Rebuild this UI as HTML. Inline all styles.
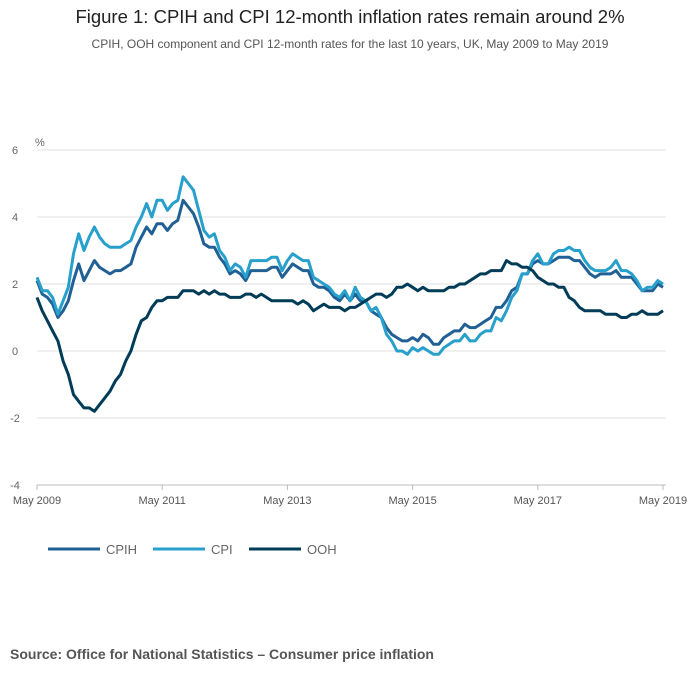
<!DOCTYPE html>
<html><head><meta charset="utf-8"><style>
body{margin:0;background:#fff;font-family:"Liberation Sans",sans-serif;}
#wrap{position:relative;width:700px;height:682px;overflow:hidden}
.t{position:absolute;left:0;width:700px;text-align:center}
</style></head><body>
<div id="wrap">
<div class="t" style="top:6px;font-size:18.5px;color:#222">Figure 1: CPIH and CPI 12-month inflation rates remain around 2%</div>
<div class="t" style="top:37px;font-size:12px;color:#555">CPIH, OOH component and CPI 12-month rates for the last 10 years, UK, May 2009 to May 2019</div>
<svg id="chart" width="700" height="600" style="position:absolute;left:0;top:0"></svg>
<div style="position:absolute;left:10px;top:646px;font-size:14px;font-weight:bold;color:#555">Source: Office for National Statistics – Consumer price inflation</div>
</div>
<script>
const yTicks=[6,4,2,0,-2,-4];
const xTickLabels=["May 2009","May 2011","May 2013","May 2015","May 2017","May 2019"];
const seriesNames=["CPIH","CPI","OOH"];
const cpih=[2.1,1.7,1.6,1.4,1.0,1.2,1.5,2.1,
2.6,2.1,2.4,2.7,2.5,2.4,2.3,2.4,2.4,2.5,2.6,3.1,
3.4,3.7,3.5,3.8,3.8,3.6,3.8,3.9,4.5,4.3,4.1,3.7,
3.2,3.1,3.1,2.8,2.6,2.3,2.4,2.3,2.1,2.4,2.4,2.4,
2.4,2.5,2.5,2.2,2.4,2.6,2.5,2.4,2.4,2.0,1.9,1.9,
1.8,1.6,1.5,1.7,1.5,1.7,1.5,1.5,1.2,1.1,1.0,0.7,
0.5,0.4,0.3,0.3,0.4,0.3,0.5,0.4,0.2,0.2,0.4,0.5,
0.6,0.6,0.8,0.7,0.7,0.8,0.9,1.0,1.3,1.3,1.5,1.8,
1.9,2.3,2.3,2.6,2.7,2.6,2.6,2.7,2.8,2.8,2.8,2.7,
2.7,2.5,2.3,2.2,2.3,2.3,2.3,2.4,2.2,2.2,2.2,2.0,
1.8,1.8,1.8,2.0,1.9];
const cpi=[2.2,1.8,1.8,1.6,1.1,1.5,1.9,2.9,
3.5,3.0,3.4,3.7,3.4,3.2,3.1,3.1,3.1,3.2,3.3,3.7,
4.0,4.4,4.0,4.5,4.5,4.2,4.4,4.5,5.2,5.0,4.8,4.2,
3.6,3.4,3.5,3.0,2.8,2.4,2.6,2.5,2.2,2.7,2.7,2.7,
2.7,2.8,2.8,2.4,2.7,2.9,2.8,2.7,2.7,2.2,2.1,2.0,
1.9,1.7,1.6,1.8,1.5,1.9,1.6,1.5,1.2,1.3,1.0,0.5,
0.3,0.0,0.0,-0.1,0.1,0.0,0.1,0.0,-0.1,-0.1,0.1,0.2,
0.3,0.3,0.5,0.3,0.3,0.5,0.6,0.6,1.0,0.9,1.2,1.6,
1.8,2.3,2.3,2.7,2.9,2.6,2.6,2.9,3.0,3.0,3.1,3.0,
3.0,2.7,2.5,2.4,2.4,2.4,2.5,2.7,2.4,2.4,2.3,2.1,
1.8,1.9,1.9,2.1,2.0];
const ooh=[1.6,1.2,0.9,0.6,0.3,-0.3,-0.7,-1.3,
-1.5,-1.7,-1.7,-1.8,-1.6,-1.4,-1.2,-0.9,-0.7,-0.3,0.0,0.5,
0.9,1.0,1.3,1.5,1.5,1.6,1.6,1.6,1.8,1.8,1.8,1.7,
1.8,1.7,1.8,1.7,1.7,1.6,1.6,1.6,1.7,1.7,1.6,1.7,
1.6,1.5,1.5,1.5,1.5,1.5,1.4,1.5,1.4,1.2,1.3,1.4,
1.3,1.3,1.3,1.2,1.3,1.3,1.4,1.5,1.6,1.7,1.7,1.6,
1.7,1.9,1.9,2.0,1.9,1.8,1.9,1.8,1.8,1.8,1.8,1.9,
1.9,2.0,2.0,2.1,2.2,2.3,2.3,2.4,2.4,2.4,2.7,2.6,
2.6,2.5,2.5,2.4,2.2,2.1,2.0,2.0,1.9,1.9,1.6,1.5,
1.3,1.2,1.2,1.2,1.2,1.1,1.1,1.1,1.0,1.0,1.1,1.1,
1.2,1.1,1.1,1.1,1.2];
const NS="http://www.w3.org/2000/svg";
const svg=document.getElementById('chart');
const x0=37,x1=663,yTop=150,yBot=485;
function xs(i){return x0+(x1-x0)*i/120;}
function ys(v){return yTop+(6-v)*(yBot-yTop)/10;}
function mk(t,a){const e=document.createElementNS(NS,t);for(const k in a)e.setAttribute(k,a[k]);svg.appendChild(e);return e;}
yTicks.forEach(v=>{
 const g=mk('line',{x1:x0,x2:666,y1:ys(v),y2:ys(v),stroke:v===-4?'#bbb':'#e2e2e2','stroke-width':1});
 
 
 const t=mk('text',{x:15,y:ys(v)+4,'font-size':11,fill:'#666','text-anchor':'middle','font-family':'Liberation Sans'});
 t.textContent=v;
 
 
});
const pct=mk('text',{x:35,y:146,'font-size':11,fill:'#666','font-family':'Liberation Sans'});
pct.textContent='%';


xTickLabels.forEach((l,k)=>{
 const x=xs(k*24);
 const tk=mk('line',{x1:x,x2:x,y1:yBot,y2:yBot+5,stroke:'#bbb'});
 
 
 const t=mk('text',{x:x,y:504,'font-size':11,fill:'#555','text-anchor':'middle','font-family':'Liberation Sans'});
 t.textContent=l;
 
 
});
const colors=['#206095','#27a0cc','#003c57'];
[cpih,cpi,ooh].forEach((s,k)=>{
 const d=s.map((v,i)=>(i?'L':'M')+xs(i).toFixed(1)+','+ys(v).toFixed(1)).join('');
 const p=mk('path',{d:d,fill:'none',stroke:colors[k],'stroke-width':3,'stroke-linejoin':'round'});
 
 
});
const lx=[48,153,249];
seriesNames.forEach((n,k)=>{
 const l=mk('line',{x1:lx[k],x2:lx[k]+52,y1:549,y2:549,stroke:colors[k],'stroke-width':3});
 
 
 const t=mk('text',{x:lx[k]+58,y:554,'font-size':13,fill:'#666','font-family':'Liberation Sans'});
 t.textContent=n;
 
 
});
</script>
</body></html>
